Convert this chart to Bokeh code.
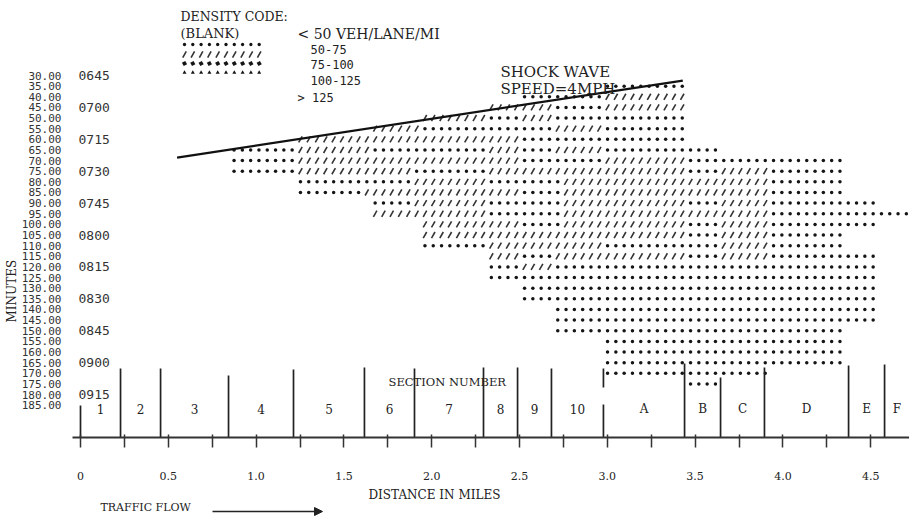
import math
from bokeh.plotting import figure
from bokeh.layouts import column
from bokeh.models import Range1d, FixedTicker, CustomJSTickFormatter, Label, Arrow, NormalHead, Title
from bokeh.core.properties import value
from bokeh.embed import file_html
from bokeh.resources import INLINE

# ---------------- data ----------------
ROW_MINUTES = [30, 35, 40, 45, 50, 55, 60, 65, 70, 75, 80, 85, 90, 95, 100, 105,
               110, 115, 120, 125, 130, 135, 140, 145, 150, 155, 160, 165, 170, 175, 180, 185]

TIME_MINUTES = [30, 45, 60, 75, 90, 105, 120, 135, 150, 165, 180]
TIME_LABELS = ["0645", "0700", "0715", "0730", "0745", "0800", "0815", "0830", "0845", "0900", "0915"]

# density code per printer column: (first column, end column, code)
# code 1 = 50-75 (dots), code 2 = 75-100 (slashes)
DENSITY_RUNS = [
    [],                                                                       # 30
    [(63, 73, 1)],                                                            # 35
    [(53, 63, 1), (63, 73, 2)],                                               # 40
    [(49, 57, 2), (57, 63, 1), (63, 73, 2)],                                  # 45
    [(41, 49, 2), (49, 53, 1), (53, 57, 2), (57, 73, 1)],                     # 50
    [(35, 41, 2), (41, 57, 1), (57, 63, 2), (63, 73, 1)],                     # 55
    [(26, 53, 2), (53, 73, 1)],                                               # 60
    [(18, 26, 1), (26, 35, 2), (35, 49, 1), (49, 53, 2), (53, 57, 1), (57, 63, 2), (63, 77, 1)],  # 65
    [(18, 26, 1), (26, 53, 2), (53, 63, 1), (63, 73, 2), (73, 92, 1)],       # 70
    [(18, 26, 1), (26, 40, 2), (40, 49, 1), (49, 73, 2), (73, 77, 1), (77, 83, 2), (83, 92, 1)],  # 75
    [(26, 40, 1), (40, 49, 2), (49, 58, 1), (58, 83, 2), (83, 92, 1)],       # 80
    [(26, 34, 1), (34, 53, 2), (53, 58, 1), (58, 83, 2), (83, 92, 1)],       # 85
    [(35, 40, 1), (40, 49, 2), (49, 58, 1), (58, 73, 2), (73, 77, 1), (77, 83, 2), (83, 96, 1)],  # 90
    [(35, 49, 2), (49, 58, 1), (58, 83, 2), (83, 100, 1)],                   # 95
    [(41, 53, 2), (53, 58, 1), (58, 73, 2), (73, 77, 1), (77, 83, 2), (83, 96, 1)],  # 100
    [(41, 73, 2), (73, 77, 1), (77, 83, 2), (83, 92, 1)],                    # 105
    [(41, 49, 1), (49, 63, 2), (63, 77, 1), (77, 83, 2), (83, 92, 1)],       # 110
    [(49, 53, 2), (53, 57, 1), (57, 73, 2), (73, 77, 1), (77, 83, 2), (83, 96, 1)],  # 115
    [(49, 53, 1), (53, 57, 2), (57, 96, 1)],                                 # 120
    [(49, 96, 1)],                                                            # 125
    [(53, 96, 1)],                                                            # 130
    [(53, 96, 1)],                                                            # 135
    [(57, 96, 1)],                                                            # 140
    [(57, 96, 1)],                                                            # 145
    [(57, 92, 1)],                                                            # 150
    [(63, 92, 1)],                                                            # 155
    [(63, 92, 1)],                                                            # 160
    [(63, 92, 1)],                                                            # 165
    [(63, 83, 1)],                                                            # 170
    [(73, 77, 1)],                                                            # 175
    [],                                                                       # 180
    [],                                                                       # 185
]

SECTION_NAMES = ["1", "2", "3", "4", "5", "6", "7", "8", "9", "10", "A", "B", "C", "D", "E", "F"]
SECTION_EDGES = [0.0, 0.228, 0.456, 0.843, 1.213, 1.617, 1.902, 2.295, 2.489, 2.682,
                 2.978, 3.440, 3.645, 3.895, 4.374, 4.579, 4.72]

SHOCK_MILES = [0.55, 3.43]
SHOCK_MINUTES = [68.6, 32.4]

MILE_TICKS = [0, 0.5, 1, 1.5, 2, 2.5, 3, 3.5, 4, 4.5]
MILE_MINOR_TICKS = [0.25, 0.75, 1.25, 1.75, 2.25, 2.75, 3.25, 3.75, 4.25]

LEGEND_TEXTS = ["< 50 VEH/LANE/MI", "50-75", "75-100", "100-125", "> 125"]

# ---------------- layout ----------------
W, H = 909, 519
MAIN_H = 487
FRAME_LEFT, FRAME_BOTTOM = 72, 437
PX_PER_MILE, X0_PX = 175.6, 80.0
PX_PER_MIN, Y30_PX = 2.127, 75.0
CHAR_W = 8.3 / PX_PER_MILE
INK = "#222222"


def mx(px):
    return (px - X0_PX) / PX_PER_MILE


def my(py):
    return 30 + (py - Y30_PX) / PX_PER_MIN


p = figure(width=W, height=MAIN_H, output_backend="svg", toolbar_location=None,
           x_range=Range1d(mx(FRAME_LEFT), mx(W)),
           y_range=Range1d(my(FRAME_BOTTOM), my(0)),
           min_border_left=FRAME_LEFT, min_border_right=0, min_border_top=0,
           min_border_bottom=MAIN_H - FRAME_BOTTOM)
p.outline_line_color = None
p.xgrid.visible = False
p.ygrid.visible = False

# x axis
ax = p.xaxis[0]
ax.ticker = FixedTicker(ticks=MILE_TICKS, minor_ticks=MILE_MINOR_TICKS)
ax.formatter = CustomJSTickFormatter(code="return tick == 0 ? '0' : tick.toFixed(1);")
ax.axis_line_width = 2
ax.axis_line_color = "#333333"
ax.major_tick_in = 3
ax.major_tick_out = 10
ax.minor_tick_in = 3
ax.minor_tick_out = 10
ax.major_tick_line_width = 1.5
ax.minor_tick_line_width = 1.5
ax.major_tick_line_color = "#333333"
ax.minor_tick_line_color = "#333333"
ax.major_label_standoff = 24
ax.major_label_text_font = "DejaVu Serif"
ax.major_label_text_font_size = "11px"
ax.major_label_text_color = INK

# y axis (minutes)
ay = p.yaxis[0]
ay.ticker = FixedTicker(ticks=ROW_MINUTES)
ay.formatter = CustomJSTickFormatter(code="return tick.toFixed(2);")
ay.axis_line_color = None
ay.major_tick_line_color = None
ay.minor_tick_line_color = None
ay.major_label_standoff = 5
ay.major_label_text_font = "DejaVu Sans Mono"
ay.major_label_text_font_size = "11px"
ay.major_label_text_color = "#333333"

p.add_layout(Title(text="MINUTES", align="left", offset=115, text_font="DejaVu Serif",
                   text_font_size="12px", text_font_style="normal", text_color=INK, standoff=0), "left")

# density cells
dot_x, dot_y, sl_x, sl_y = [], [], [], []
for t, runs in zip(ROW_MINUTES, DENSITY_RUNS):
    for c0, c1, code in runs:
        for c in range(c0, c1):
            x = (c + 0.5) * CHAR_W
            if code == 1:
                dot_x.append(x); dot_y.append(t)
            else:
                sl_x.append(x); sl_y.append(t)

p.scatter(dot_x, dot_y, marker="circle", size=3.5, fill_color="#151515", line_color=None)
p.scatter(sl_x, sl_y, marker="dash", size=7, angle=1.05, line_color="#333333", line_width=1.6)

# legend symbols
LEG_X = [mx(184 + 8.3 * k) for k in range(10)]
p.scatter(LEG_X, [my(44)] * 10, marker="circle", size=3.3, fill_color="#151515", line_color=None)
p.scatter(LEG_X, [my(54)] * 10, marker="dash", size=7, angle=1.05, line_color="#333333", line_width=1.6)
p.scatter(LEG_X, [my(63)] * 10, marker="square", size=3.8, angle=0.5, fill_color="#151515", line_color=None)
p.scatter(LEG_X, [my(72)] * 10, marker="triangle", size=4, fill_color="#151515", line_color=None)

# section boundary lines
LINE_TOP_PX = [405, 368, 368, 375, 369, 367, 368, 367, 367, 368, 368, 363, 377, 367, 365, 364]
seg_x, seg_top, seg_bot = [], [], []
for i, e in enumerate(SECTION_EDGES[:-1]):
    if SECTION_NAMES[i] == "A":
        seg_x += [e, e]; seg_top += [my(LINE_TOP_PX[i]), my(404)]; seg_bot += [my(387), my(FRAME_BOTTOM)]
    else:
        seg_x.append(e); seg_top.append(my(LINE_TOP_PX[i])); seg_bot.append(my(FRAME_BOTTOM))
p.segment(x0=seg_x, y0=seg_top, x1=seg_x, y1=seg_bot, line_color=INK, line_width=1.7)

# section labels
sec_mid = [(a + b) / 2 for a, b in zip(SECTION_EDGES[:-1], SECTION_EDGES[1:])]
p.text(sec_mid, [my(408)] * len(sec_mid), text=SECTION_NAMES, text_align="center",
       text_baseline="middle", text_font=value("DejaVu Serif"), text_font_size="12px", text_color=INK)

# time-of-day labels
p.text([mx(78)] * len(TIME_LABELS), TIME_MINUTES, text=TIME_LABELS, text_align="left",
       text_baseline="middle", text_font=value("DejaVu Sans Mono"), text_font_size="13px", text_color="#333333")

# shock wave line
p.line(SHOCK_MILES, SHOCK_MINUTES, line_color="#111111", line_width=2.2)


def add_text(fig, xx, yy, text, font="DejaVu Serif", size="12px", align="left"):
    fig.add_layout(Label(x=xx, y=yy, text=text, text_font=font, text_font_size=size,
                         text_align=align, text_baseline="middle", text_color=INK))


add_text(p, mx(180), my(16), "DENSITY CODE:", size="12.5px")
add_text(p, mx(180), my(33), "(BLANK)", size="13px")
add_text(p, mx(297), my(33), LEGEND_TEXTS[0], size="14px")
add_text(p, mx(310), my(49), LEGEND_TEXTS[1], font="DejaVu Sans Mono", size="12px")
add_text(p, mx(310), my(64), LEGEND_TEXTS[2], font="DejaVu Sans Mono", size="12px")
add_text(p, mx(310), my(80), LEGEND_TEXTS[3], font="DejaVu Sans Mono", size="12px")
add_text(p, mx(297), my(97), LEGEND_TEXTS[4], font="DejaVu Sans Mono", size="12px")
add_text(p, mx(500), my(71), "SHOCK WAVE", size="15px")
add_text(p, mx(500), my(88), "SPEED=4MPH", size="15px")
add_text(p, mx(388), my(381), "SECTION NUMBER", size="11.5px")

# ---------------- bottom strip (axis title and flow arrow) ----------------
q = figure(width=W, height=H - MAIN_H, output_backend="svg", toolbar_location=None,
           x_range=Range1d(FRAME_LEFT, W), y_range=Range1d(H, MAIN_H),
           x_axis_location=None, y_axis_location=None,
           min_border_left=FRAME_LEFT, min_border_right=0, min_border_top=0, min_border_bottom=0)
q.outline_line_color = None
q.xgrid.visible = False
q.ygrid.visible = False

add_text(q, 368, 494, "DISTANCE IN MILES", size="12px")
add_text(q, 100, 507, "TRAFFIC FLOW", size="11px")
q.add_layout(Arrow(end=NormalHead(size=8, fill_color=INK, line_color=INK),
                   x_start=212, y_start=511, x_end=322, y_end=511,
                   line_color=INK, line_width=1.3))

open("out.html", "w").write(file_html(column(p, q, spacing=0), INLINE))
